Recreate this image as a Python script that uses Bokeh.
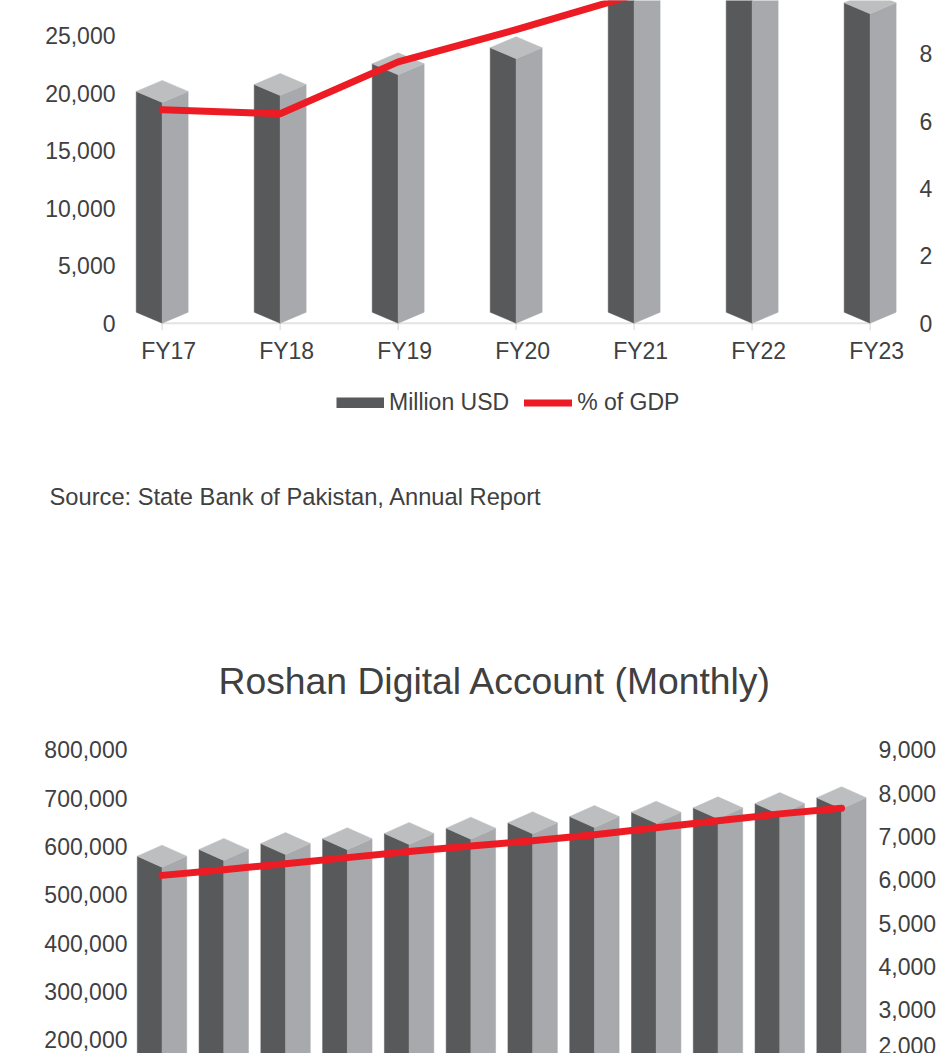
from bokeh.plotting import figure
from bokeh.models import (Range1d, LinearAxis, SingleIntervalTicker, FixedTicker,
                          NumeralTickFormatter, CustomJSTickFormatter, Legend,
                          LegendItem, Title, Label)
from bokeh.embed import file_html
from bokeh.resources import INLINE

# ---------------- data : chart 1 (workers' remittances) ----------------
fy_labels = ["FY17", "FY18", "FY19", "FY20", "FY21", "FY22", "FY23"]
remit_musd = [19200, 19800, 21600, 23000, 29450, 31300, 26900]
remit_pct_gdp = [6.34, 6.22, 7.76, 8.72, 9.75, 10.1, 9.8]
series_names = ["Million USD", "% of GDP"]
source_note = "Source: State Bank of Pakistan, Annual Report"

# ---------------- data : chart 2 (Roshan Digital Account, monthly) ------
rda_title = "Roshan Digital Account (Monthly)"
rda_accounts = [557000, 571000, 583000, 593000, 604000, 615000,
                626000, 639000, 648000, 657000, 666000, 678000]
rda_inflows = [6100, 6230, 6370, 6510, 6650, 6780,
               6900, 7040, 7200, 7360, 7520, 7650]

# ---------------- styles ----------------
TEXT = "#404041"
DARK = "#58595b"
LIGHT = "#a7a9ac"
TOP = "#bcbec0"
RED = "#ed1c24"
AXIS_GRAY = "#e3e3e3"
FONT = "Liberation Sans"
W = 939
H1 = 370          # chart 1 with its category axis
HL = 170          # legend + source strip
H2 = 1053 - H1 - HL


def prism(xc, vals, half_w, dv):
    dx, dy, lx, ly, tx, ty = [], [], [], [], [], []
    for c, v in zip(xc, vals):
        dx.append([c - half_w, c, c, c - half_w]); dy.append([v + dv, v, 0, dv])
        lx.append([c, c + half_w, c + half_w, c]); ly.append([v, v + dv, dv, 0])
        tx.append([c - half_w, c, c + half_w, c]); ty.append([v + dv, v + 2 * dv, v + dv, v])
    return (dx, dy), (lx, ly), (tx, ty)


def style_axis(ax, standoff):
    ax.axis_line_color = None
    ax.major_tick_line_color = None
    ax.minor_tick_line_color = None
    ax.major_tick_in = 0
    ax.major_tick_out = 0
    ax.major_label_standoff = standoff
    ax.major_label_text_font = FONT
    ax.major_label_text_font_size = "23px"
    ax.major_label_text_color = TEXT


# ======================= chart 1 =======================
frame1_h = 331
y1 = Range1d(-722, 28061)
pct = Range1d(-0.2465, 9.584)
px_per_unit1 = frame1_h / (y1.end - y1.start)
dv1 = 11 / px_per_unit1
tick1 = 7 / px_per_unit1

p1 = figure(width=W, height=H1, x_range=Range1d(-0.294, 6.325), y_range=y1,
            output_backend="svg", toolbar_location=None,
            x_axis_location=None, y_axis_location=None,
            min_border_left=127, min_border_right=31, min_border_top=0,
            min_border_bottom=H1 - frame1_h, outline_line_color=None)
p1.extra_y_ranges = {"pct": pct}
p1.grid.visible = False

axl = LinearAxis(ticker=SingleIntervalTicker(interval=5000),
                 formatter=NumeralTickFormatter(format="0,0"))
style_axis(axl, 8)
p1.add_layout(axl, "left")
axr = LinearAxis(y_range_name="pct", ticker=SingleIntervalTicker(interval=2),
                 formatter=NumeralTickFormatter(format="0"))
style_axis(axr, 7)
p1.add_layout(axr, "right")
xi1 = list(range(len(fy_labels)))
axb = LinearAxis(ticker=FixedTicker(ticks=[i + 0.055 for i in xi1]),
                 formatter=CustomJSTickFormatter(args=dict(labels=fy_labels),
                                                 code="return labels[Math.round(tick)] || ''"))
style_axis(axb, 6)
p1.add_layout(axb, "below")

# category axis line and ticks
p1.segment(x0=[xi1[0]], y0=[0], x1=[xi1[-1]], y1=[0], line_color=AXIS_GRAY, line_width=2)
p1.segment(x0=xi1, y0=[0] * len(xi1), x1=xi1, y1=[-tick1] * len(xi1),
           line_color=AXIS_GRAY, line_width=1.5)

(dx, dy), (lx, ly), (tx, ty) = prism(xi1, remit_musd, 0.22, dv1)
p1.patches(dx, dy, fill_color=DARK, line_color=DARK, line_width=0.5)
p1.patches(lx, ly, fill_color=LIGHT, line_color=LIGHT, line_width=0.5)
p1.patches(tx, ty, fill_color=TOP, line_color=TOP, line_width=0.5)
p1.line(xi1, remit_pct_gdp, y_range_name="pct", line_color=RED,
        line_width=7, line_cap="round", line_join="round")

# ======================= legend + source strip =======================
pl = figure(width=W, height=HL, x_range=Range1d(0, 1), y_range=Range1d(0, 1),
            output_backend="svg", toolbar_location=None,
            x_axis_location=None, y_axis_location=None,
            min_border=0, outline_line_color=None)
pl.grid.visible = False
key_bar = pl.line(x=[0], y=[float("nan")], line_color=DARK, line_width=11, line_cap="butt")
key_red = pl.line(x=[0], y=[float("nan")], line_color=RED, line_width=7, line_cap="round")
legend = Legend(items=[LegendItem(label=series_names[0], renderers=[key_bar]),
                       LegendItem(label=series_names[1], renderers=[key_red])],
                orientation="horizontal", location=(336, 124),
                glyph_width=48, glyph_height=11, label_standoff=5, spacing=15,
                label_text_font=FONT, label_text_font_size="23px",
                label_text_color=TEXT, border_line_color=None,
                background_fill_alpha=0, padding=0, margin=0)
pl.add_layout(legend, "center")
pl.add_layout(Label(x=49, y=44, x_units="screen", y_units="screen", text=source_note,
                    text_font=FONT, text_font_size="23.7px", text_color=TEXT,
                    text_baseline="alphabetic", text_align="left"))

# ======================= chart 2 =======================
frame2_top = 740 - H1 - HL
y2 = Range1d(171222, 819255)
inflow = Range1d(1986, 9215)
px_per_unit2 = (H2 - frame2_top) / (y2.end - y2.start)
dv2 = 11 / px_per_unit2

p2 = figure(width=W, height=H2, x_range=Range1d(-0.429, 11.404), y_range=y2,
            output_backend="svg", toolbar_location=None,
            x_axis_location=None, y_axis_location=None,
            min_border_left=135, min_border_right=68, min_border_top=frame2_top,
            min_border_bottom=0, outline_line_color=None)
p2.extra_y_ranges = {"inflow": inflow}
p2.grid.visible = False
p2.title = Title(text=rda_title, align="left", offset=83,
                 text_font=FONT, text_font_size="37.3px", text_font_style="normal",
                 text_color=TEXT, standoff=77)

axl2 = LinearAxis(ticker=SingleIntervalTicker(interval=100000),
                  formatter=NumeralTickFormatter(format="0,0"))
style_axis(axl2, 4)
p2.add_layout(axl2, "left")
axr2 = LinearAxis(y_range_name="inflow", ticker=SingleIntervalTicker(interval=1000),
                  formatter=NumeralTickFormatter(format="0,0"))
style_axis(axr2, 8)
p2.add_layout(axr2, "right")

xi2 = list(range(len(rda_accounts)))
(dx, dy), (lx, ly), (tx, ty) = prism(xi2, rda_accounts, 0.40, dv2)
p2.patches(dx, dy, fill_color=DARK, line_color=DARK, line_width=0.5)
p2.patches(lx, ly, fill_color=LIGHT, line_color=LIGHT, line_width=0.5)
p2.patches(tx, ty, fill_color=TOP, line_color=TOP, line_width=0.5)
p2.line(xi2, rda_inflows, y_range_name="inflow", line_color=RED,
        line_width=7, line_cap="round", line_join="round")

open("out.html", "w").write(file_html([p1, pl, p2], INLINE))
